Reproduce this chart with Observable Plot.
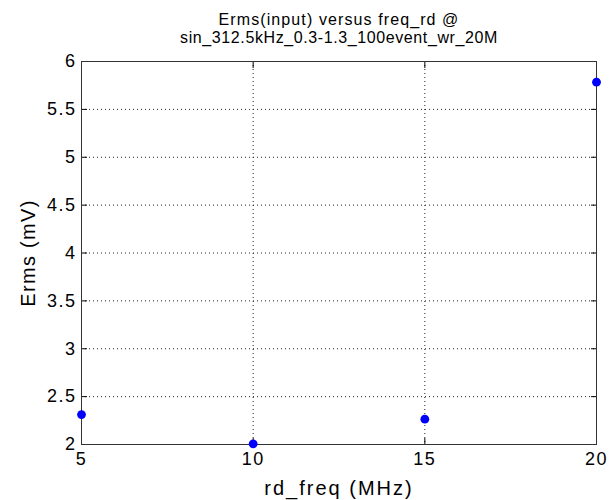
<!DOCTYPE html>
<html>
<head>
<meta charset="utf-8">
<script src="https://cdn.jsdelivr.net/npm/d3@7"></script>
<script src="https://cdn.jsdelivr.net/npm/@observablehq/plot@0.6"></script>
<style>
body { margin: 0; background: #fff; }
svg { font-family: "Liberation Sans", Arial, sans-serif; }
g[aria-label="x-axis tick label"] text, g[aria-label="y-axis tick label"] text { letter-spacing: 1.5px; }
g[aria-description="title1"] text { letter-spacing: 1.1px; }
g[aria-description="title2"] text { letter-spacing: 0.6px; }
g[aria-description="xlabel"] text { letter-spacing: 2px; }
g[aria-description="ylabel"] text { letter-spacing: 1.3px; }
</style>
</head>
<body>
<div id="chart"></div>
<script>
const freq = [5, 10, 15, 20];
const erms = [2.313, 2.007, 2.264, 5.784];
const xTicks = [5, 10, 15, 20];
const yTicks = [2, 2.5, 3, 3.5, 4, 4.5, 5, 5.5, 6];
const titleLine1 = "Erms(input) versus freq_rd @";
const titleLine2 = "sin_312.5kHz_0.3-1.3_100event_wr_20M";
const xLabel = "rd_freq (MHz)";
const yLabel = "Erms (mV)";

const data = freq.map((f, i) => ({f, e: erms[i]}));
const ink = "#000";

const chart = Plot.plot({
  width: 610,
  height: 500,
  marginLeft: 81,
  marginRight: 14,
  marginTop: 61,
  marginBottom: 56,
  style: {fontFamily: "Liberation Sans, Arial, sans-serif", background: "#fff", color: ink},
  x: {domain: [5, 20], ticks: xTicks},
  y: {domain: [2, 6], ticks: yTicks},
  marks: [
    Plot.gridX(xTicks.slice(1, -1), {stroke: "#222", strokeOpacity: 1, strokeDasharray: "1,3"}),
    Plot.gridY(yTicks.slice(1, -1), {stroke: "#222", strokeOpacity: 1, strokeDasharray: "1,3"}),
    Plot.axisX(xTicks, {anchor: "bottom", tickSize: -6, tickPadding: 14, fontSize: 18, label: null}),
    Plot.axisX(xTicks, {anchor: "top", tickSize: -6, text: null, label: null}),
    Plot.axisY(yTicks, {anchor: "left", tickSize: -6, tickPadding: 11, fontSize: 18, label: null, tickFormat: d => String(d)}),
    Plot.axisY(yTicks, {anchor: "right", tickSize: -6, text: null, label: null}),
    Plot.frame({stroke: "#333"}),
    Plot.dot(data, {x: "f", y: "e", r: 4.4, fill: "#0000ff", stroke: "none"}),
    Plot.text([titleLine1], {frameAnchor: "top", dy: -37, fontSize: 16, textAnchor: "middle", lineAnchor: "bottom", ariaDescription: "title1"}),
    Plot.text([titleLine2], {frameAnchor: "top", dy: -19, fontSize: 16, textAnchor: "middle", lineAnchor: "bottom", ariaDescription: "title2"}),
    Plot.text([xLabel], {frameAnchor: "bottom", dy: 50, fontSize: 20, textAnchor: "middle", lineAnchor: "bottom", ariaDescription: "xlabel"}),
    Plot.text([yLabel], {frameAnchor: "left", dx: -47, rotate: -90, fontSize: 20, textAnchor: "middle", lineAnchor: "bottom", ariaDescription: "ylabel"})
  ]
});
document.getElementById("chart").appendChild(chart);
</script>
</body>
</html>
